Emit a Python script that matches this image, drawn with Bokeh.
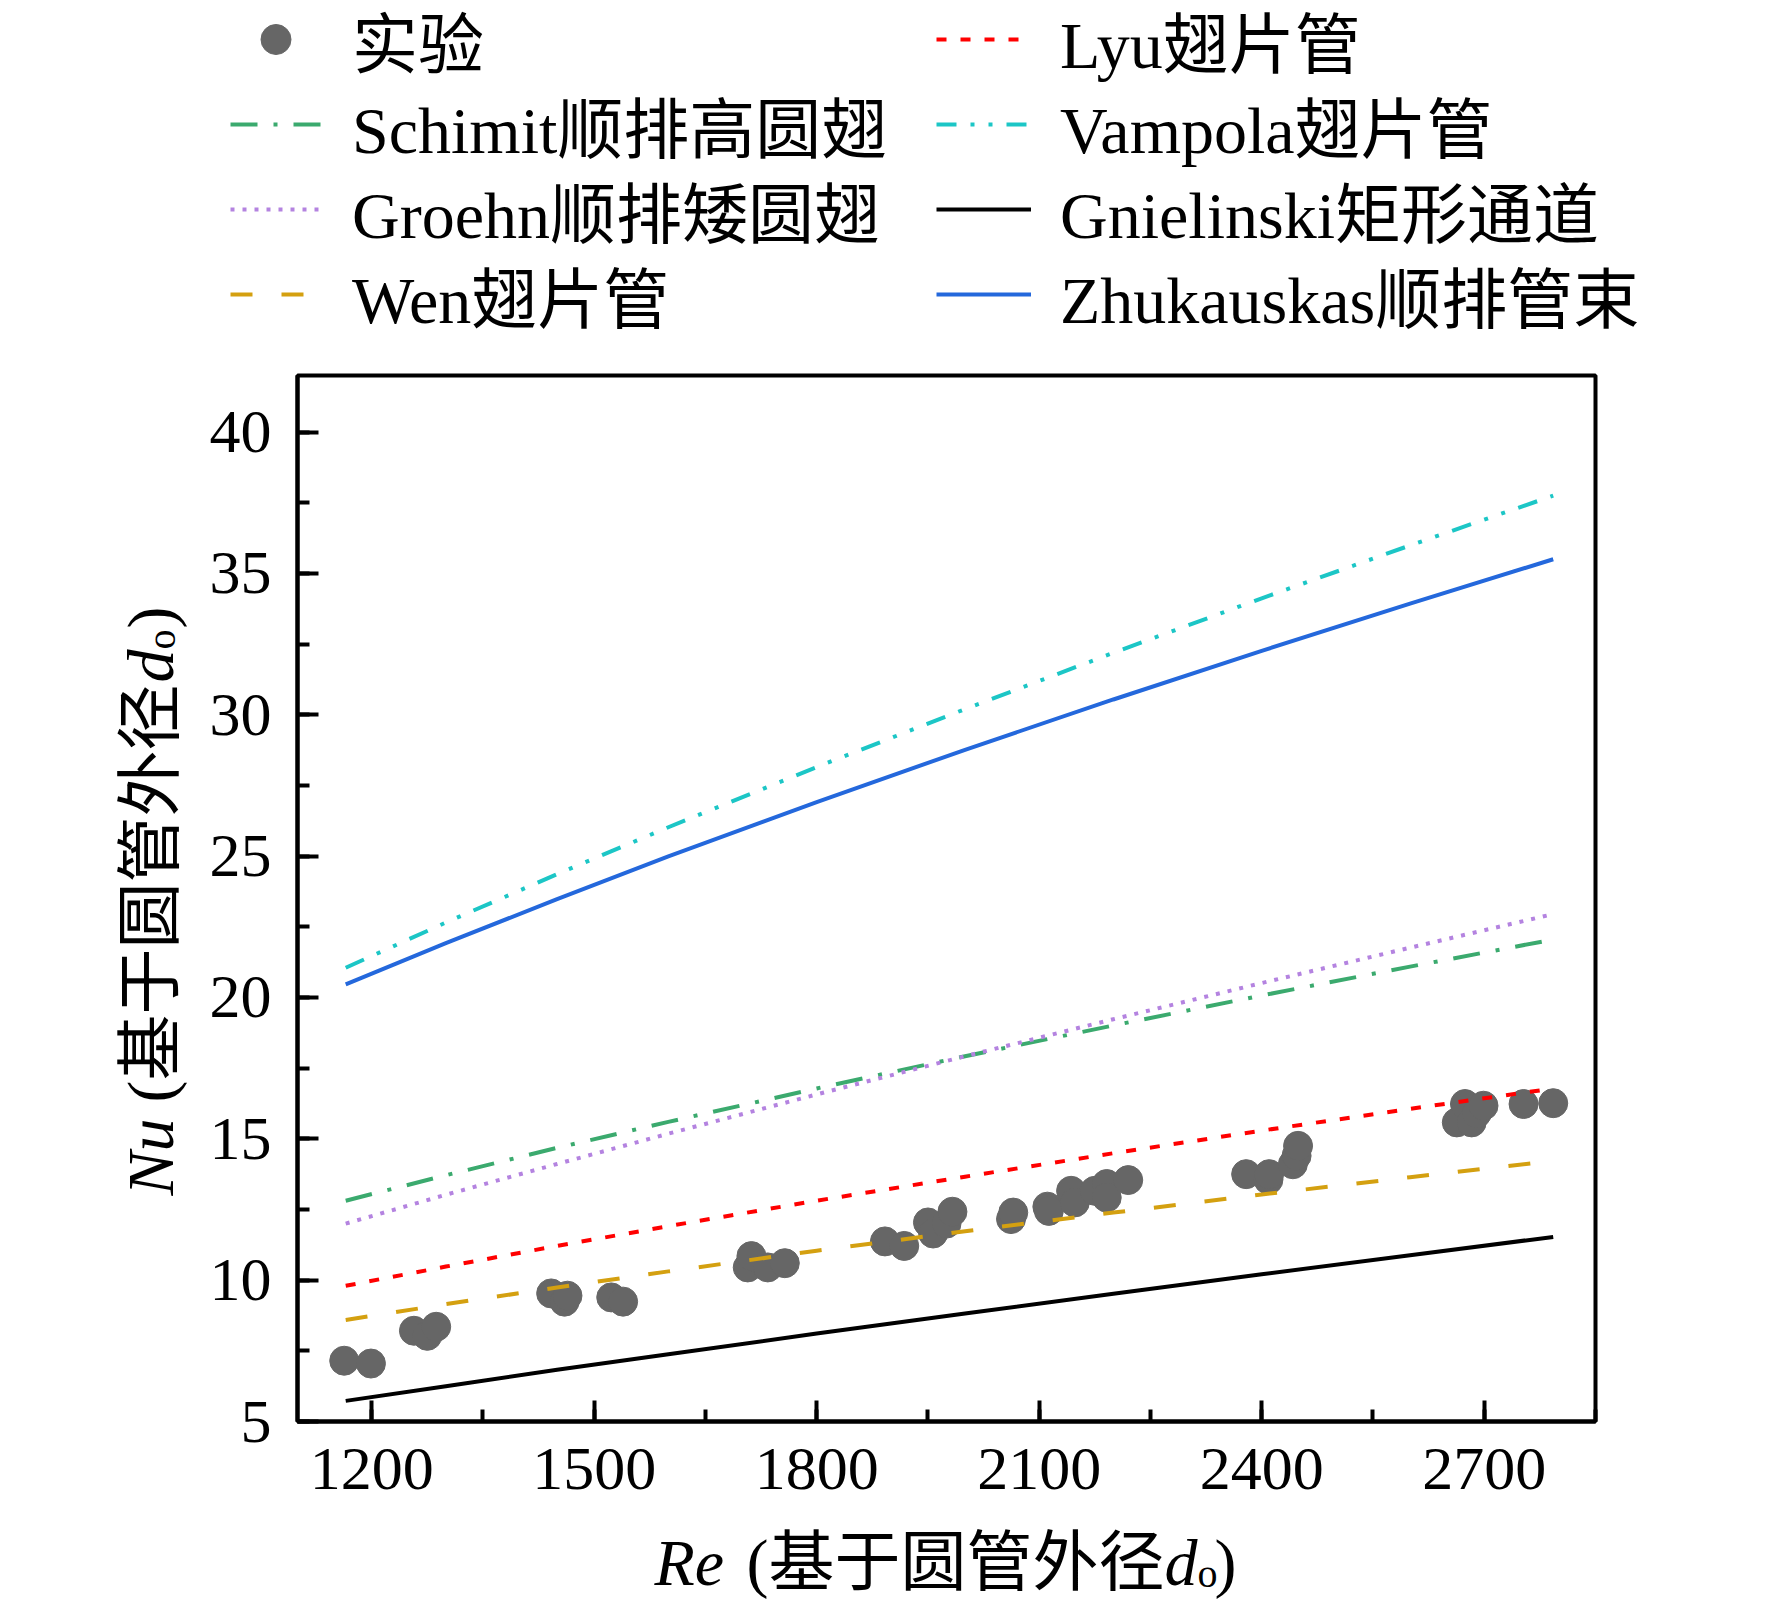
import math
from bokeh.plotting import figure
from bokeh.models import Range1d, SingleIntervalTicker, Legend, LegendItem, Label
from bokeh.layouts import column, row
from bokeh.embed import file_html
from bokeh.resources import INLINE

# ---- data ----
re_exp = [1163, 1199, 1257, 1275, 1287, 1442, 1460, 1464, 1523, 1539,
          1707, 1712, 1734, 1757, 1892, 1918, 1950, 1957, 1975, 1983,
          2062, 2065, 2111, 2113, 2143, 2148, 2175, 2191, 2191, 2220,
          2379, 2409, 2410, 2442, 2447, 2449, 2663, 2674, 2683, 2690,
          2699, 2753, 2793]
nu_exp = [7.15, 7.05, 8.21, 8.03, 8.35, 9.53, 9.24, 9.45, 9.39, 9.24,
          10.45, 10.85, 10.45, 10.60, 11.37, 11.21, 12.04, 11.65, 12.00, 12.42,
          12.16, 12.39, 12.60, 12.45, 13.16, 12.75, 13.16, 13.40, 12.92, 13.54,
          13.75, 13.55, 13.75, 14.10, 14.40, 14.75, 15.58, 16.23, 15.58, 15.90,
          16.17, 16.23, 16.26]

re_line = [1165, 1300, 1450, 1600, 1800, 2000, 2200, 2400, 2600, 2793]
nu_schimit = [12.81, 13.71, 14.68, 15.60, 16.78, 17.92, 19.01, 20.07, 21.09, 22.05]
nu_groehn = [12.00, 13.02, 14.11, 15.18, 16.57, 17.92, 19.23, 20.51, 21.76, 22.95]
nu_wen = [8.59, 9.15, 9.74, 10.31, 11.04, 11.73, 12.39, 13.03, 13.64, 14.22]
nu_lyu = [9.80, 10.48, 11.21, 11.91, 12.81, 13.66, 14.49, 15.29, 16.06, 16.78]
nu_vampola = [21.05, 22.65, 24.36, 26.02, 28.15, 30.20, 32.19, 34.12, 35.99, 37.75]
nu_gnielinski = [5.73, 6.25, 6.83, 7.38, 8.11, 8.82, 9.52, 10.21, 10.88, 11.53]
nu_zhukauskas = [20.46, 21.92, 23.48, 24.99, 26.91, 28.76, 30.54, 32.26, 33.93, 35.50]

label_exp = "实验"
labels_left = ["Schimit顺排高圆翅", "Groehn顺排矮圆翅", "Wen翅片管"]
labels_right = ["Lyu翅片管", "Vampola翅片管", "Gnielinski矩形通道", "Zhukauskas顺排管束"]

FONT = "'Liberation Serif', 'Noto Sans CJK SC'"

ST = {
    "sch": dict(line_color="#3BAA6E", line_width=4, line_dash="27 16 4 16"),
    "gro": dict(line_color="#B483E0", line_width=4, line_dash="4 8"),
    "wen": dict(line_color="#D4A010", line_width=4, line_dash="22 29"),
    "lyu": dict(line_color="#FF0000", line_width=4, line_dash="10 14"),
    "vam": dict(line_color="#1CC6C6", line_width=4, line_dash="20 14 4 14 4 14"),
    "gni": dict(line_color="black", line_width=4),
    "zhu": dict(line_color="#2468DC", line_width=4),
}
PT = dict(size=29, color="#666666", marker="circle")

def blank(w, h, x0, x1, y_bottom, y_top, **kw):
    args = dict(min_border=0)
    args.update(kw)
    f = figure(width=w, height=h, output_backend="svg", toolbar_location=None,
               x_range=Range1d(x0, x1), y_range=Range1d(y_bottom, y_top),
               x_axis_type=None, y_axis_type=None, **args)
    f.grid.visible = False
    f.outline_line_color = None
    f.background_fill_color = "white"
    f.border_fill_color = "white"
    return f

# ---- main plot: frame at canvas x 297..1595, y 375..1421 ----
p = figure(width=1562, height=1151, output_backend="svg", toolbar_location=None,
           x_range=Range1d(1100, 2850), y_range=Range1d(5, 42),
           min_border_left=95, min_border_right=169,
           min_border_top=5, min_border_bottom=100)
p.background_fill_color = "white"
p.border_fill_color = "white"
p.grid.visible = False
p.outline_line_color = "black"
p.outline_line_width = 4

p.xaxis.ticker = SingleIntervalTicker(interval=300, num_minor_ticks=2)
p.yaxis.ticker = SingleIntervalTicker(interval=5, num_minor_ticks=2)
for ax in (p.xaxis, p.yaxis):
    ax.axis_line_width = 4
    ax.axis_line_color = "black"
    ax.major_tick_in = 21
    ax.major_tick_out = 0
    ax.minor_tick_in = 12
    ax.minor_tick_out = 0
    ax.major_tick_line_width = 4
    ax.minor_tick_line_width = 4
    ax.major_tick_line_color = "black"
    ax.minor_tick_line_color = "black"
    ax.major_label_text_font = FONT
    ax.major_label_text_font_size = "62px"
    ax.major_label_text_color = "black"
p.xaxis.major_label_standoff = 27
p.yaxis.major_label_standoff = 26

p.scatter(re_exp, nu_exp, **PT)
p.line(re_line, nu_schimit, **ST["sch"])
p.line(re_line, nu_groehn, **ST["gro"])
p.line(re_line, nu_wen, **ST["wen"])
p.line(re_line, nu_lyu, **ST["lyu"])
p.line(re_line, nu_vampola, **ST["vam"])
p.line(re_line, nu_gnielinski, **ST["gni"])
p.line(re_line, nu_zhukauskas, **ST["zhu"])

# ---- legend strip (canvas x 0..1764, y 0..370) ----
TOP_H = 370
top = blank(1764, TOP_H, 0, 1764, TOP_H, 0)
# the same series, drawn on an off-screen range so only the legend icons show
top.extra_x_ranges = {"off": Range1d(0, 1)}
top.extra_y_ranges = {"off": Range1d(0, 1)}
OFF = dict(x_range_name="off", y_range_name="off")
d_exp = top.scatter(re_exp, nu_exp, **OFF, **PT)
d = {
    "sch": top.line(re_line, nu_schimit, **OFF, **ST["sch"]),
    "gro": top.line(re_line, nu_groehn, **OFF, **ST["gro"]),
    "wen": top.line(re_line, nu_wen, **OFF, **ST["wen"]),
    "lyu": top.line(re_line, nu_lyu, **OFF, **ST["lyu"]),
    "vam": top.line(re_line, nu_vampola, **OFF, **ST["vam"]),
    "gni": top.line(re_line, nu_gnielinski, **OFF, **ST["gni"]),
    "zhu": top.line(re_line, nu_zhukauskas, **OFF, **ST["zhu"]),
}

ITEM_H = 96
ROWS = [39, 124, 209, 294]   # row centres (canvas y)

def add_entry(label, rend, gx, text_x, row_y, gw=95):
    lg = Legend(items=[LegendItem(label=label, renderers=[rend])],
                location=(gx, TOP_H - (row_y + ITEM_H / 2)),
                orientation="vertical", padding=0, margin=0, spacing=0,
                glyph_width=gw, glyph_height=ITEM_H, label_height=ITEM_H,
                label_standoff=text_x - gx - gw, label_text_font=FONT,
                label_text_font_size="66px", label_text_color="black",
                background_fill_alpha=0, border_line_alpha=0)
    top.add_layout(lg, "center")

add_entry(label_exp, d_exp, 238, 352, ROWS[0], gw=75)
for lab_txt, key, ry in zip(labels_left, ["sch", "gro", "wen"], ROWS[1:]):
    add_entry(lab_txt, d[key], 230, 352, ry)
for lab_txt, key, ry in zip(labels_right, ["lyu", "vam", "gni", "zhu"], ROWS):
    add_entry(lab_txt, d[key], 936, 1060, ry)

AX_FS = 66
def lab(fig, text, x, y, size=AX_FS, style="normal", angle=0.0):
    fig.add_layout(Label(x=x, y=y, text=text,
                         text_font=FONT, text_font_size=f"{size}px", text_font_style=style,
                         text_color="black", text_align="left", text_baseline="alphabetic",
                         angle=angle))

# ---- y title strip: its frame is aligned with the main frame (canvas y 375..1421) ----
left = blank(202, 1151, 0, 202, 1421, 375, min_border_top=5, min_border_bottom=100)
A = math.pi / 2
yx = 150
dy = 4
lab(left, "Nu", yx, 1195, style="italic", angle=A)
lab(left, "(基于圆管外径", yx, 1098 + dy, angle=A)
lab(left, "d", yx, 678 + dy, style="italic", angle=A)
lab(left, "o", yx + 11, 645 + dy, size=40, angle=A)
lab(left, ")", yx, 624 + dy, angle=A)

# ---- x title strip (canvas y 1521..1611) ----
bottom = blank(1764, 90, 0, 1764, 1611, 1521)
xb = 1562
lab(bottom, "Re", 654, xb, style="italic")
lab(bottom, "(基于圆管外径", 746, xb)
lab(bottom, "d", 1164, xb, style="italic")
lab(bottom, "o", 1197, xb + 11, size=40)
lab(bottom, ")", 1214, xb)

layout = column(top, row(left, p, spacing=0), bottom, spacing=0)
open("out.html", "w").write(file_html(layout, INLINE))
